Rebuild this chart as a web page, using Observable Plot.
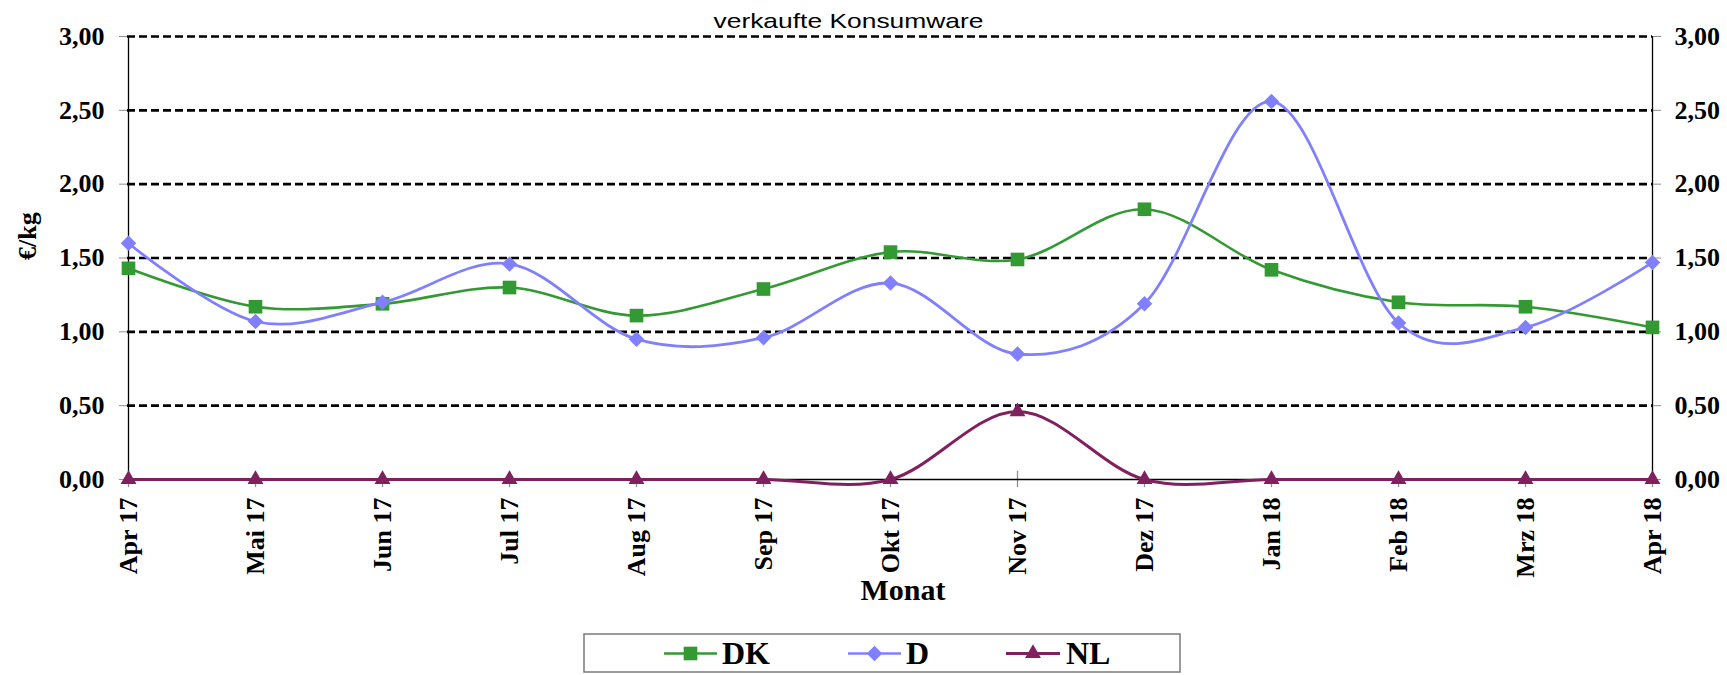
<!DOCTYPE html>
<html>
<head>
<meta charset="utf-8">
<script src="https://cdn.jsdelivr.net/npm/d3@7"></script>
<script src="https://cdn.jsdelivr.net/npm/@observablehq/plot@0.6"></script>
<style>
  html, body { margin: 0; padding: 0; background: #ffffff; }
  #wrap { position: relative; width: 1727px; height: 675px; overflow: hidden; }
  #wrap > svg { position: absolute; left: 0; top: 0; }
  .overlay { position: absolute; }
</style>
</head>
<body>
<div id="wrap"></div>
<script>
// ---- data ----
const months = ["Apr 17","Mai 17","Jun 17","Jul 17","Aug 17","Sep 17","Okt 17","Nov 17","Dez 17","Jan 18","Feb 18","Mrz 18","Apr 18"];
const dkValues = [1.43, 1.17, 1.19, 1.30, 1.11, 1.29, 1.54, 1.49, 1.83, 1.42, 1.20, 1.17, 1.03];
const dValues  = [1.60, 1.07, 1.20, 1.46, 0.95, 0.96, 1.33, 0.85, 1.19, 2.56, 1.06, 1.03, 1.47];
const nlValues = [0, 0, 0, 0, 0, 0, 0, 0.46, 0, 0, 0, 0, 0];
const yTicks = [0, 0.5, 1, 1.5, 2, 2.5, 3];
const seriesNames = ["DK", "D", "NL"];
const titleText = "verkaufte Konsumware";
const xTitle = "Monat";
const yTitle = "€/kg";

// ---- styles ----
const colors = { DK: "#339933", D: "#8080FF", NL: "#80205F" };
const serif = "'Liberation Serif', 'Times New Roman', serif";
const fmt = v => v.toFixed(2).replace(".", ",");
const R = { DK: 7.7, D: 7.0, NL: 5.9 };

const rows = (vals, s) => months.map((m, i) => ({ month: m, value: vals[i], series: s }));
const dk = rows(dkValues, "DK"), de = rows(dValues, "D"), nl = rows(nlValues, "NL");

const W = 1727, H = 675;
const chart = Plot.plot({
  width: W, height: H,
  marginLeft: 127, marginRight: 75, marginTop: 36, marginBottom: 196,
  x: { type: "point", domain: months, padding: 0, axis: null },
  y: { domain: [0, 3], axis: null },
  style: { background: "#ffffff", fontFamily: serif, overflow: "visible" },
  marks: [
    // dashed gridlines
    Plot.ruleY(yTicks.filter(v => v > 0), { stroke: "#000", strokeWidth: 2.6, strokeDasharray: "8,4" }),
    // vertical axis lines (left & right)
    Plot.ruleX([months[0], months[months.length - 1]], { y1: 0, y2: 3, stroke: "#000", strokeWidth: 1.3 }),
    // x tick marks crossing the baseline
    Plot.ruleX(months, { y1: -0.055, y2: 0.055, stroke: "#909090", strokeWidth: 1.3 }),
    // baseline
    Plot.ruleY([0], { stroke: "#000", strokeWidth: 1.5 }),
    // y axes (left & right)
    Plot.axisY(yTicks, { anchor: "left", label: null, tickSize: 8, tickPadding: 15, tickFormat: fmt, stroke: "#909090",
      fontSize: 26, fontWeight: "bold", fontFamily: serif }),
    Plot.axisY(yTicks, { anchor: "right", label: null, tickSize: 8, tickPadding: 14, tickFormat: fmt, stroke: "#909090",
      fontSize: 26, fontWeight: "bold", fontFamily: serif }),
    // x tick labels
    Plot.text(months, { x: d => d, y: () => 0, text: d => d, rotate: -90, textAnchor: "end", lineAnchor: "middle",
      dy: 18, fontSize: 26, fontWeight: "bold", fontFamily: serif, fill: "#000" }),
    // axis titles
    Plot.text([xTitle], { frameAnchor: "bottom", lineAnchor: "middle", text: d => d, dx: 13, dy: 111, fontSize: 30,
      fontWeight: "bold", fontFamily: serif, fill: "#000" }),
    Plot.text([yTitle], { frameAnchor: "left", lineAnchor: "middle", text: d => d, dx: -100, dy: 2, rotate: -90,
      fontSize: 26, fontWeight: "bold", fontFamily: serif, fill: "#000" }),
    // series: DK
    Plot.line(dk, { x: "month", y: "value", stroke: colors.DK, strokeWidth: 2.6, curve: "cardinal", tension: 0 }),
    Plot.dot(dk, { x: "month", y: "value", symbol: "square", r: R.DK, fill: colors.DK }),
    // series: D
    Plot.line(de, { x: "month", y: "value", stroke: colors.D, strokeWidth: 2.8, curve: "cardinal", tension: 0 }),
    Plot.dot(de, { x: "month", y: "value", symbol: "diamond2", r: R.D, fill: colors.D }),
    // series: NL
    Plot.line(nl, { x: "month", y: "value", stroke: colors.NL, strokeWidth: 3, curve: "cardinal", tension: 0 }),
    Plot.dot(nl, { x: "month", y: "value", symbol: "triangle", r: R.NL, fill: colors.NL })
  ]
});
const wrap = document.getElementById("wrap");
wrap.appendChild(chart);

// ---- title (overlay) ----
const ns = "http://www.w3.org/2000/svg";
const tsvg = document.createElementNS(ns, "svg");
tsvg.setAttribute("class", "overlay");
tsvg.setAttribute("width", W); tsvg.setAttribute("height", 34);
tsvg.style.left = "0px"; tsvg.style.top = "0px";
const tt = document.createElementNS(ns, "text");
tt.setAttribute("x", 848.5); tt.setAttribute("y", 27.5);
tt.setAttribute("text-anchor", "middle");
tt.setAttribute("font-family", "'Liberation Sans', Arial, sans-serif");
tt.setAttribute("font-size", "21");
tt.setAttribute("textLength", "270");
tt.setAttribute("lengthAdjust", "spacingAndGlyphs");
tt.setAttribute("fill", "#000");
tt.textContent = titleText;
tsvg.appendChild(tt);
wrap.appendChild(tsvg);

// ---- legend (overlay) ----
const lsvg = document.createElementNS(ns, "svg");
lsvg.setAttribute("class", "overlay");
lsvg.setAttribute("width", 600); lsvg.setAttribute("height", 41);
lsvg.style.left = "583px"; lsvg.style.top = "633px";
const rect = document.createElementNS(ns, "rect");
rect.setAttribute("x", 1); rect.setAttribute("y", 1); rect.setAttribute("width", 596); rect.setAttribute("height", 38);
rect.setAttribute("fill", "#fff"); rect.setAttribute("stroke", "#7a7a7a"); rect.setAttribute("stroke-width", 1.5);
lsvg.appendChild(rect);
const legendPos = [ { x0: 81, x1: 134, tx: 139 }, { x0: 265, x1: 318, tx: 323 }, { x0: 423, x1: 477, tx: 483 } ];
const symbolOf = { DK: d3.symbolSquare, D: d3.symbolDiamond2, NL: d3.symbolTriangle };
seriesNames.forEach((s, i) => {
  const p = legendPos[i], cy = 20.5;
  const ln = document.createElementNS(ns, "line");
  ln.setAttribute("x1", p.x0); ln.setAttribute("x2", p.x1); ln.setAttribute("y1", cy); ln.setAttribute("y2", cy);
  ln.setAttribute("stroke", colors[s]); ln.setAttribute("stroke-width", s === "NL" ? 3 : 2.6);
  lsvg.appendChild(ln);
  const sym = document.createElementNS(ns, "path");
  sym.setAttribute("d", d3.symbol(symbolOf[s], Math.PI * R[s] * R[s])());
  sym.setAttribute("transform", `translate(${(p.x0 + p.x1) / 2},${cy})`);
  sym.setAttribute("fill", colors[s]);
  lsvg.appendChild(sym);
  const tx = document.createElementNS(ns, "text");
  tx.setAttribute("x", p.tx); tx.setAttribute("y", 31);
  tx.setAttribute("font-family", serif); tx.setAttribute("font-weight", "bold"); tx.setAttribute("font-size", "32");
  tx.setAttribute("fill", "#000");
  tx.textContent = s;
  lsvg.appendChild(tx);
});
wrap.appendChild(lsvg);
</script>
</body>
</html>
